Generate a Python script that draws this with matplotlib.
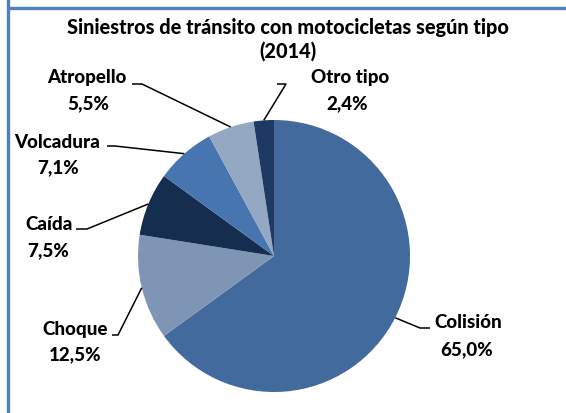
import matplotlib
matplotlib.use("Agg")
import matplotlib.pyplot as plt
import numpy as np

categories = ["Colisión", "Choque", "Caída", "Volcadura", "Atropello", "Otro tipo"]
values = [65.0, 12.5, 7.5, 7.1, 5.5, 2.4]
pct_labels = ["65,0%", "12,5%", "7,5%", "7,1%", "5,5%", "2,4%"]
colors = ["#436A9C", "#7F95B5", "#152D4F", "#4675B0", "#95A8C3", "#1E3A63"]
title_lines = ["Siniestros de tránsito con motocicletas según tipo", "(2014)"]

W, H = 566, 414
fig = plt.figure(figsize=(W / 100, H / 100), dpi=100)
ax = fig.add_axes([0, 0, 1, 1])

def P(x, y):
    return (x, H - y)

cx, cy = 274, 257
R = 136
wedges, _ = ax.pie(values, colors=colors, startangle=90, counterclock=False,
                   center=P(cx, cy), radius=R, frame=True,
                   wedgeprops=dict(linewidth=0))
ax.set_xlim(0, W)
ax.set_ylim(0, H)
ax.set_aspect("equal")
ax.axis("off")

font = dict(family=["Lato", "DejaVu Sans"], fontweight="black", fontsize=13.5, color="black")

# label layout: (name center, pct center, elbow, horizontal end)
layout = {
    "Colisión": ((468, 323), (467, 350), (420, 329), (430, 329)),
    "Choque": ((75, 330), (75, 355), (118, 336), (112, 336)),
    "Caída": ((49, 225), (48, 251), (87, 230), (76, 230)),
    "Volcadura": ((57, 142), (58, 168), (115, 147), (107, 147)),
    "Atropello": ((87, 78), (88, 104), (142, 85), (132, 85)),
    "Otro tipo": ((350, 78), (347, 104), (286, 85), (277, 85)),
}

for w, cat, pl in zip(wedges, categories, pct_labels):
    mid = np.deg2rad((w.theta1 + w.theta2) / 2)
    ex, ey = w.center[0] + R * np.cos(mid), w.center[1] + R * np.sin(mid)
    nc, pc, elb, hend = layout[cat]
    xs = [ex, elb[0], hend[0]]
    ys = [ey, H - elb[1], H - hend[1]]
    ax.plot(xs, ys, color="black", lw=1.1, solid_capstyle="butt")
    ax.text(*P(*nc), cat, ha="center", va="center", **font)
    ax.text(*P(*pc), pl, ha="center", va="center", **font)

tfont = dict(font, fontsize=14.3)
ax.text(*P(288, 27), title_lines[0], ha="center", va="center", **tfont)
ax.text(*P(288, 51), title_lines[1], ha="center", va="center", **tfont)

# frame border (cut at right and bottom)
border = "#4F81BD"
ax.plot([8.3, 8.3], [H + 5, -5], color=border, lw=2.4, solid_capstyle="butt")
ax.plot([8.3 - 1.2, W + 5], [H - 9.2, H - 9.2], color=border, lw=2.4, solid_capstyle="butt")

fig.savefig("out.png", dpi=100)
